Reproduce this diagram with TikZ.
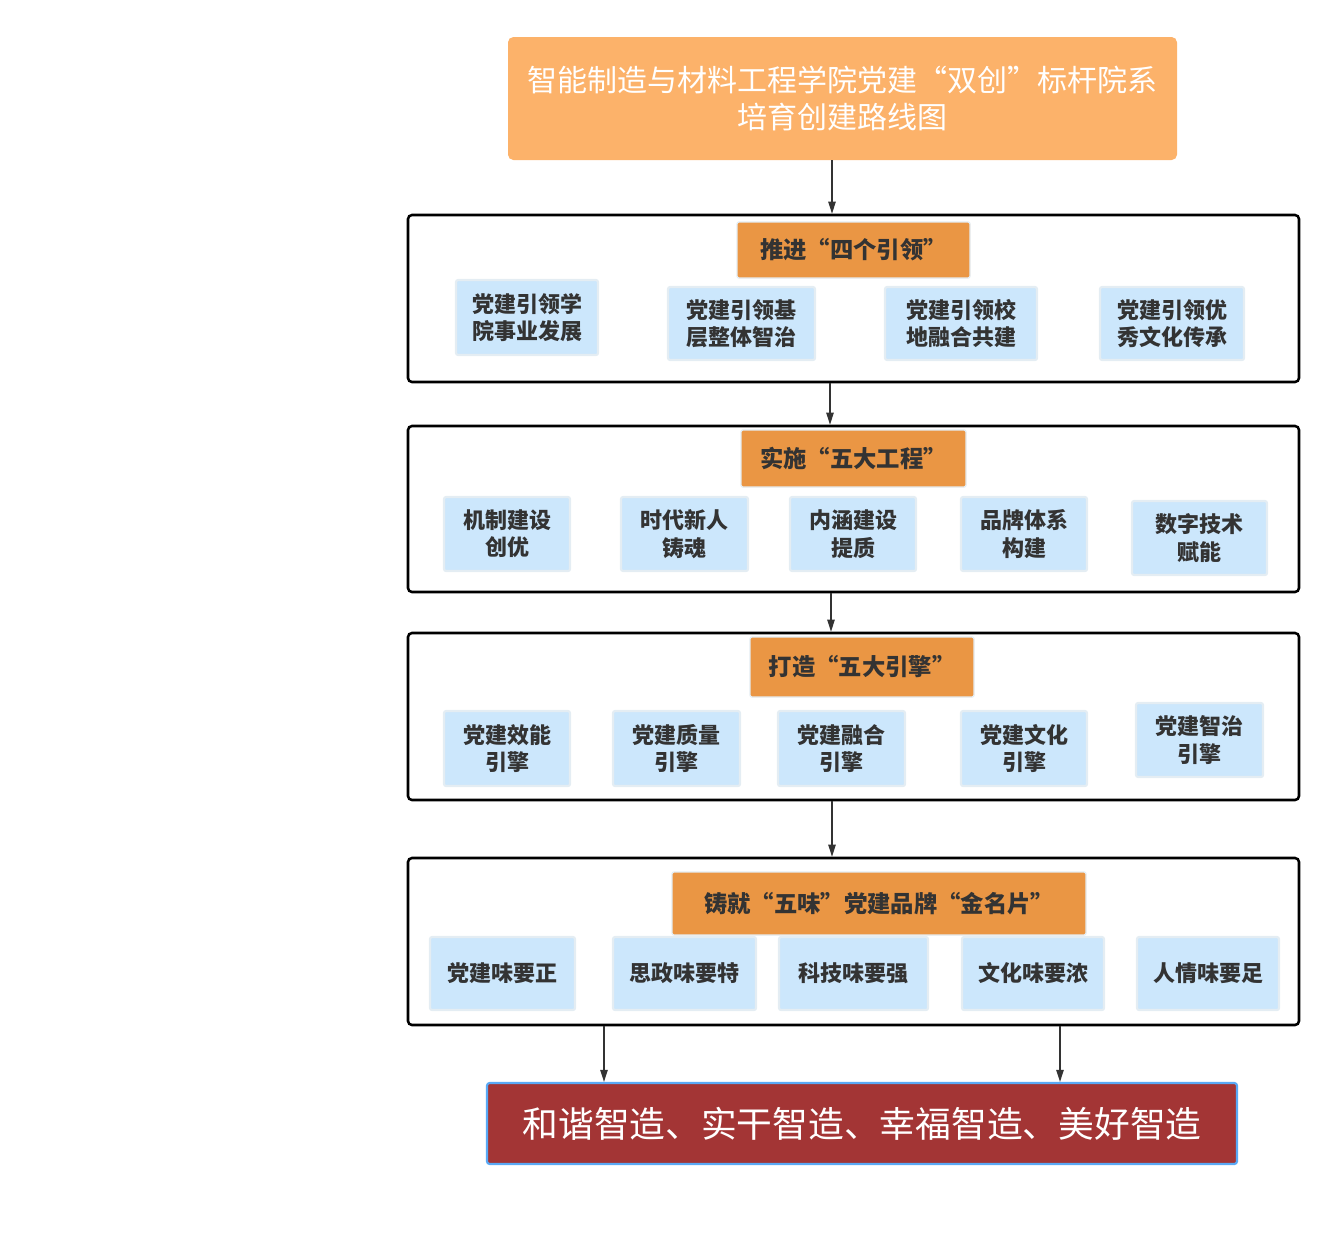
\documentclass[tikz,border=0pt]{standalone}
\usepackage{fontspec}
\newfontfamily\cjk{Noto Sans CJK SC}
\usetikzlibrary{arrows.meta}
\definecolor{titlefill}{HTML}{FCB26A}
\definecolor{headfill}{HTML}{EA9644}
\definecolor{childfill}{HTML}{CCE7FC}
\definecolor{childline}{HTML}{E4EDF3}
\definecolor{finalfill}{HTML}{A33535}
\definecolor{finalline}{HTML}{5AA9F5}
\definecolor{txt}{HTML}{333333}
\definecolor{arrowc}{HTML}{333333}
% \bx{style}{name}{x1}{y1}{x2}{y2}{text}
\newcommand\bx[7]{\node[#1,inner sep=0pt,
  minimum width={(#5-#3)*0.75pt},minimum height={(#6-#4)*0.75pt}]
  (#2) at ({(#3+#5)/2},{(#4+#6)/2}) {#7};}
\begin{document}
\begin{tikzpicture}[x=0.75pt,y=-0.75pt,
  titlebox/.style={fill=titlefill,rounded corners=4pt,text=white,align=center,font=\cjk\fontsize{22.5}{28}\selectfont},
  frame/.style={draw=black,line width=1.9pt,rounded corners=3pt},
  headbox/.style={fill=headfill,draw=childline,line width=1pt,rounded corners=1.5pt,text=txt,align=center,font=\cjk\bfseries\fontsize{17.5}{20}\selectfont},
  childbox/.style={fill=childfill,draw=childline,line width=1.6pt,rounded corners=1.5pt,text=txt,align=center,font=\cjk\bfseries\fontsize{16.5}{20.5}\selectfont},
  finalbox/.style={fill=finalfill,draw=finalline,line width=1.6pt,rounded corners=2pt,text=white,align=center,font=\cjk\fontsize{26.8}{30}\selectfont},
  arr/.style={draw=arrowc,line width=1.1pt,-{Triangle[length=9pt,width=5.5pt]}}
]
\useasboundingbox (0,0) rectangle (1336,1258);

% title
\bx{titlebox}{top}{508}{37}{1177}{160}{智能制造与材料工程学院党建“双创”标杆院系\\培育创建路线图}

% group 1
\bx{frame}{f1}{408}{215}{1299}{382}{}
\bx{headbox}{h1}{737}{222}{970}{278}{推进“四个引领”}
\bx{childbox}{a1}{456}{280}{598}{355}{党建引领学\\院事业发展}
\bx{childbox}{a2}{668}{287}{815}{360}{党建引领基\\层整体智治}
\bx{childbox}{a3}{885}{287}{1037}{360}{党建引领校\\地融合共建}
\bx{childbox}{a4}{1100}{287}{1244}{360}{党建引领优\\秀文化传承}

% group 2
\bx{frame}{f2}{408}{426}{1299}{592}{}
\bx{headbox}{h2}{741}{430}{966}{487}{实施“五大工程”}
\bx{childbox}{b1}{444}{497}{570}{571}{机制建设\\创优}
\bx{childbox}{b2}{621}{497}{748}{571}{时代新人\\铸魂}
\bx{childbox}{b3}{790}{497}{916}{571}{内涵建设\\提质}
\bx{childbox}{b4}{961}{497}{1087}{571}{品牌体系\\构建}
\bx{childbox}{b5}{1132}{501}{1267}{575}{数字技术\\赋能}

% group 3
\bx{frame}{f3}{408}{633}{1299}{800}{}
\bx{headbox}{h3}{750}{637}{974}{697}{打造“五大引擎”}
\bx{childbox}{c1}{444}{711}{570}{786}{党建效能\\引擎}
\bx{childbox}{c2}{613}{711}{740}{786}{党建质量\\引擎}
\bx{childbox}{c3}{778}{711}{905}{786}{党建融合\\引擎}
\bx{childbox}{c4}{961}{711}{1087}{786}{党建文化\\引擎}
\bx{childbox}{c5}{1136}{703}{1263}{777}{党建智治\\引擎}

% group 4
\bx{frame}{f4}{408}{858}{1299}{1025}{}
\bx{headbox}{h4}{672}{872}{1086}{935}{铸就“五味”党建品牌“金名片”}
\bx{childbox}{d1}{430}{937}{575}{1010}{党建味要正}
\bx{childbox}{d2}{613}{937}{756}{1010}{思政味要特}
\bx{childbox}{d3}{779}{937}{928}{1010}{科技味要强}
\bx{childbox}{d4}{962}{937}{1104}{1010}{文化味要浓}
\bx{childbox}{d5}{1137}{937}{1279}{1010}{人情味要足}

% final
\bx{finalbox}{fin}{487}{1083}{1237}{1164}{和谐智造、实干智造、幸福智造、美好智造}

% connectors
\coordinate (x1) at (832,0);
\coordinate (x2) at (830,0);
\coordinate (x3) at (831,0);
\coordinate (x4) at (832,0);
\coordinate (x5) at (604,0);
\coordinate (x6) at (1060,0);
\draw[arr] (top.south -| x1) -- (f1.north -| x1);
\draw[arr] (f1.south -| x2) -- (f2.north -| x2);
\draw[arr] (f2.south -| x3) -- (f3.north -| x3);
\draw[arr] (f3.south -| x4) -- (f4.north -| x4);
\draw[arr] (f4.south -| x5) -- (fin.north -| x5);
\draw[arr] (f4.south -| x6) -- (fin.north -| x6);
\end{tikzpicture}
\end{document}
